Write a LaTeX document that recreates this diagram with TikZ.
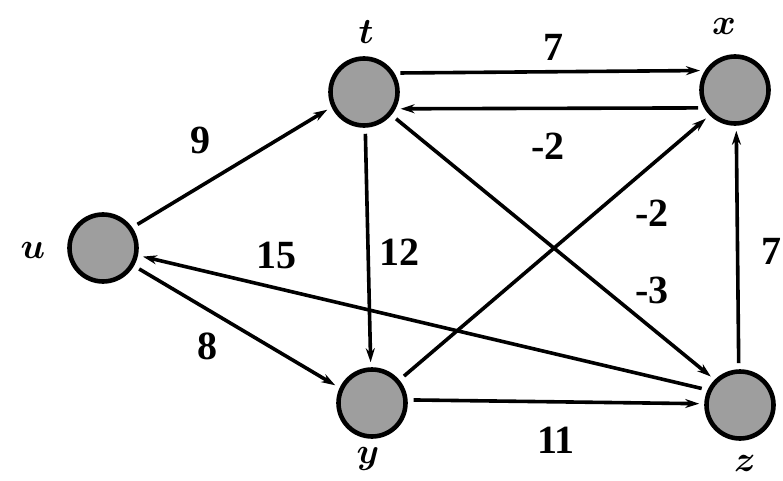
\documentclass[tikz,border=0pt]{standalone}
\usepackage{amsmath}
\usepackage{graphicx}
\usepackage{fontspec}
\setmainfont{Liberation Serif}
\usetikzlibrary{arrows.meta}
\newcommand{\vlet}[1]{\scalebox{1.45}{\Huge$\boldsymbol{#1}$}}
\begin{document}
\begin{tikzpicture}[x=1pt,y=-1pt,
  vertex/.style={circle,draw=black,line width=4.6pt,fill=black!38,minimum size=67pt,inner sep=0pt},
  vlabel/.style={inner sep=0pt},
  wlabel/.style={inner sep=0pt,font=\fontsize{40}{42}\selectfont\bfseries},
  edge/.style={line width=3.6pt,-{Stealth[length=14pt,width=9pt]},shorten >=5pt,shorten <=6pt}]
\useasboundingbox (0,0) rectangle (783,481);
\fill[white] (0,0) rectangle (783,481);
% vertices
\node[vertex] (u) at (103,248) {};
\node[vertex] (t) at (364,92) {};
\node[vertex] (x) at (735,90) {};
\node[vertex] (y) at (372,403) {};
\node[vertex] (z) at (740,405) {};
% vertex labels
\node[vlabel] (lu) at (33,250) {\vlet{u}};
\node[vlabel] (lt) at (366,32) {\vlet{t}};
\node[vlabel] (lx) at (724,26) {\vlet{x}};
\node[vlabel] (ly) at (368,459) {\vlet{y}};
\node[vlabel] (lz) at (745,463) {\vlet{z}};
% edges
\draw[edge] (t.32) -- (x.147);
\draw[edge] (x.-150) -- (t.-28);
\draw[edge] (u.35) -- (t.205);
\draw[edge] (u.-30) -- (y.155);
\draw[edge] (t.-88) -- (y.92);
\draw[edge] (t.-40) -- (z.135);
\draw[edge] (y.40) -- (x.-135);
\draw[edge] (z.155) -- (u.-12);
\draw[edge] (y.5) -- (z.178);
\draw[edge] (z.92) -- (x.-88);
% weights
\node[wlabel] (w1) at (553,47) {7};
\node[wlabel] (w2) at (548,146) {-2};
\node[wlabel] (w3) at (200,140) {9};
\node[wlabel] (w4) at (399,252) {12};
\node[wlabel] (w5) at (276,255) {15};
\node[wlabel] (w6) at (207,346) {8};
\node[wlabel] (w7) at (652,213) {-2};
\node[wlabel] (w8) at (652,290) {-3};
\node[wlabel] (w9) at (556,440) {11};
\node[wlabel,anchor=east] (w10) at (782,251) {7};
\end{tikzpicture}
\end{document}
